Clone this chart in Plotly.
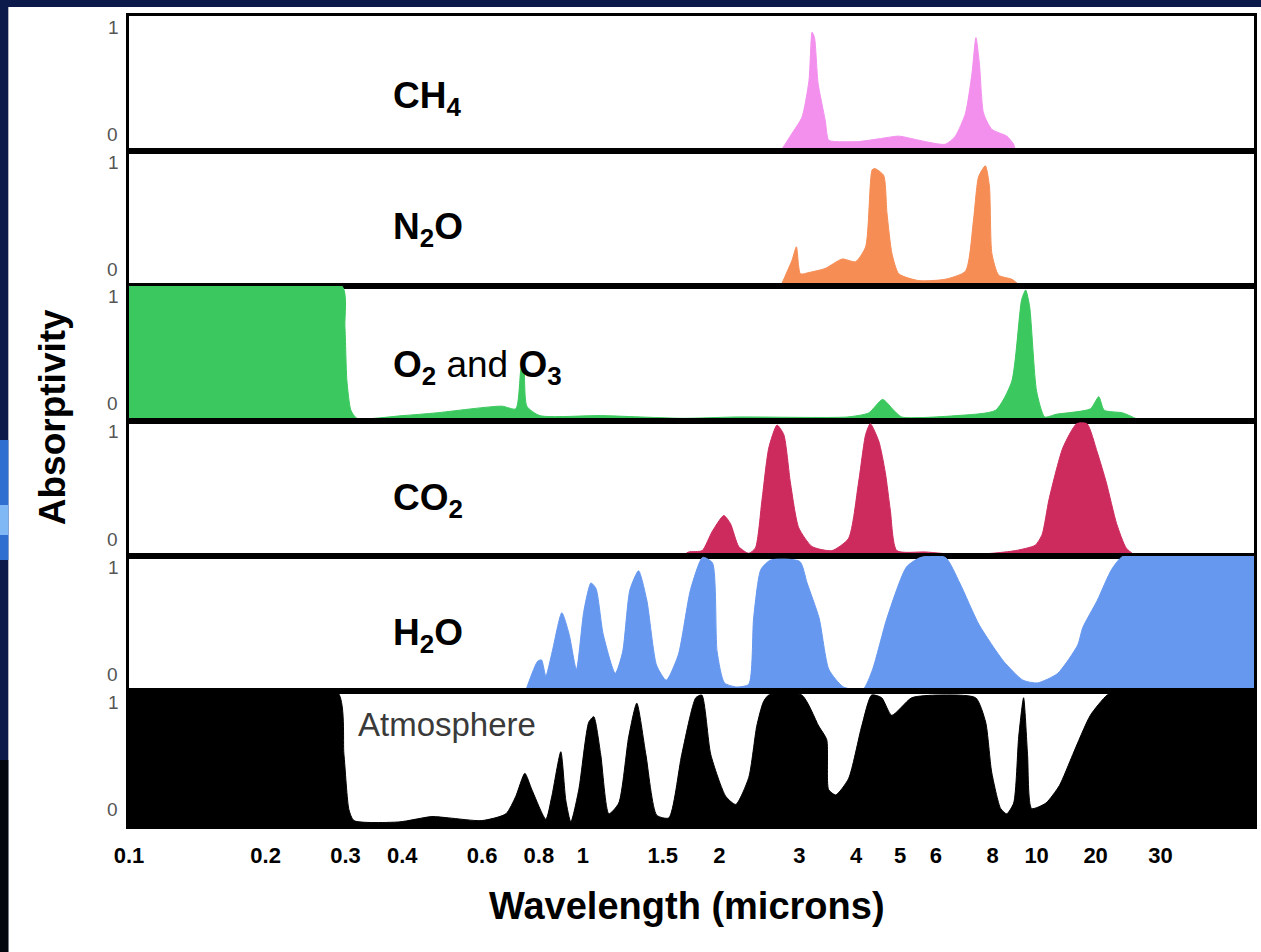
import numpy as np
import plotly.graph_objects as go

# ---------------- data ----------------
TICK_WL = [0.1, 0.2, 0.3, 0.4, 0.6, 0.8, 1, 1.5, 2, 3, 4, 5, 6, 8, 10, 20, 30]
TICK_TEXT = ["0.1", "0.2", "0.3", "0.4", "0.6", "0.8", "1", "1.5", "2", "3",
             "4", "5", "6", "8", "10", "20", "30"]

CH4_WL = [2.73, 2.89, 3.04, 3.15, 3.20, 3.24, 3.30, 3.42, 3.48, 3.60, 4.05, 4.49,
          4.97, 5.50, 6.29, 6.62, 6.97, 7.20, 7.35, 7.48, 7.64, 7.97, 8.60, 8.90, 8.98]
CH4_ABS = [0, 0.13, 0.25, 0.52, 0.88, 0.84, 0.50, 0.23, 0.08, 0.07, 0.07, 0.09,
           0.11, 0.08, 0.05, 0.11, 0.28, 0.57, 0.84, 0.65, 0.28, 0.16, 0.11, 0.05, 0]

N2O_WL = [2.73, 2.89, 2.956, 3.017, 3.15, 3.42, 3.73, 3.99, 4.20, 4.34, 4.40, 4.60,
          4.68, 4.80, 4.97, 5.50, 6.29, 6.97, 7.26, 7.45, 7.71, 7.87, 7.97, 8.25,
          8.82, 9.21]
N2O_ABS = [0, 0.19, 0.29, 0.09, 0.10, 0.13, 0.20, 0.18, 0.29, 0.86, 0.87, 0.82,
           0.54, 0.24, 0.09, 0.04, 0.05, 0.11, 0.49, 0.81, 0.89, 0.74, 0.24, 0.08,
           0.05, 0]

O2O3_WL = [0.1, 0.2945, 0.2991, 0.3021, 0.3083, 0.3178, 0.4014, 0.4745, 0.6631,
           0.7118, 0.7302, 0.7413, 0.7527, 0.8043, 1.095, 1.661, 2.195, 3.834,
           4.266, 4.579, 4.842, 5.042, 6.664, 8.123, 8.81, 9.27, 9.46, 9.65, 10.0,
           11.0, 12.6, 18.8, 20.4, 21.1, 23.7, 26.1, 26.6]
O2O3_ABS = [1.0, 1.0, 0.70, 0.30, 0.08, 0.02, 0.04, 0.06, 0.11,
            0.09, 0.38, 0.45, 0.11, 0.04, 0.04, 0.02, 0.03, 0.03,
            0.06, 0.16, 0.08, 0.03, 0.04, 0.08, 0.29, 0.90, 0.97, 0.85, 0.22,
            0.03, 0.05, 0.09, 0.18, 0.08, 0.06, 0.01, 0]

CO2_WL = [1.655, 1.712, 1.832, 1.927, 2.045, 2.115, 2.206, 2.321, 2.401, 2.483,
          2.569, 2.679, 2.772, 2.868, 2.99, 3.20, 3.54, 3.85, 4.05, 4.20, 4.30,
          4.49, 4.64, 4.76, 4.92, 5.69, 6.73, 7.97, 8.98, 9.93, 10.67, 11.57,
          13.6, 16.0, 18.07, 20.2, 21.4, 22.8, 24.2, 25.7]
CO2_ABS = [0, 0.03, 0.04, 0.18, 0.30, 0.24, 0.07, 0.02, 0.06, 0.42,
           0.80, 0.97, 0.90, 0.54, 0.21, 0.07, 0.04, 0.13, 0.54, 0.90, 0.98,
           0.85, 0.62, 0.34, 0.04, 0.03, 0.01, 0.02, 0.04, 0.08, 0.16, 0.42,
           0.80, 0.98, 0.98, 0.77, 0.54, 0.24, 0.06, 0]

H2O_WL = [0.748, 0.795, 0.811, 0.829, 0.856, 0.899, 0.933, 0.968, 1.005, 1.042,
          1.069, 1.109, 1.179, 1.224, 1.270, 1.327, 1.384, 1.454, 1.527, 1.624,
          1.727, 1.837, 1.930, 1.977, 2.052, 2.183, 2.321, 2.379, 2.468, 2.593,
          3.006, 3.12, 3.317, 3.485, 3.752, 4.14, 4.35, 4.68, 5.17, 5.56, 6.29,
          6.77, 7.47, 8.46, 9.33, 10.1, 12.8, 16.2, 17.2, 20.2, 22.1, 23.8, 60]
H2O_ABS = [0, 0.22, 0.23, 0.11, 0.29, 0.58, 0.42, 0.16, 0.59, 0.80,
           0.76, 0.42, 0.13, 0.29, 0.75, 0.89, 0.67, 0.19, 0.08, 0.27,
           0.75, 0.99, 0.95, 0.29, 0.06, 0.03, 0.05, 0.54, 0.90, 0.97,
           0.96, 0.80, 0.54, 0.16, 0.03, 0.01, 0.16, 0.54, 0.92, 0.99, 0.99,
           0.80, 0.49, 0.22, 0.08, 0.06, 0.13, 0.34, 0.47, 0.67, 0.90, 1.0, 1.0]

ATM_WL = [0.1, 0.287, 0.2976, 0.3053, 0.3132, 0.3933, 0.4649, 0.5068, 0.5991,
          0.6767, 0.7118, 0.7451, 0.7721, 0.829, 0.8545, 0.8944, 0.9174, 0.941,
          0.9799, 1.031, 1.057, 1.095, 1.141, 1.200, 1.262, 1.315, 1.377, 1.455,
          1.547, 1.652, 1.774, 1.829, 1.914, 2.065, 2.173, 2.321, 2.417, 2.5,
          2.569, 3.037, 3.31, 3.447, 3.48, 3.608, 3.85, 4.117, 4.33, 4.556, 4.794,
          5.306, 6.083, 7.338, 7.72, 7.96, 8.33, 8.59, 8.90, 9.13, 9.36, 9.55,
          9.75, 11.15, 13.07, 15.3, 18.8, 21.5, 23.0, 60]
ATM_ABS = [1.0, 1.0, 0.53, 0.12, 0.04, 0.03, 0.07, 0.06, 0.04,
           0.09, 0.22, 0.39, 0.27, 0.05, 0.22, 0.55, 0.19, 0.03,
           0.27, 0.77, 0.81, 0.53, 0.09, 0.17, 0.66, 0.91, 0.53, 0.08,
           0.06, 0.53, 0.95, 0.97, 0.53, 0.22, 0.16, 0.36, 0.74, 0.92,
           0.97, 0.97, 0.74, 0.64, 0.27, 0.23, 0.35, 0.74, 0.97, 0.95, 0.82,
           0.95, 0.97, 0.95, 0.77, 0.40, 0.13, 0.09, 0.17, 0.66, 0.95, 0.53,
           0.13, 0.17, 0.30, 0.53, 0.82, 0.97, 1.0, 1.0]

PANEL_LABELS = ["<b>CH<sub>4</sub></b>", "<b>N<sub>2</sub>O</b>",
                "<b>O<sub>2</sub></b> and <b>O<sub>3</sub></b>",
                "<b>CO<sub>2</sub></b>", "<b>H<sub>2</sub>O</b>", "Atmosphere"]
PANEL_COLORS = ["#F390EE", "#F68D55", "#3BC85E", "#CD2A5E", "#6698F0", "#000000"]
PANEL_WL = [CH4_WL, N2O_WL, O2O3_WL, CO2_WL, H2O_WL, ATM_WL]
PANEL_ABS = [CH4_ABS, N2O_ABS, O2O3_ABS, CO2_ABS, H2O_ABS, ATM_ABS]

# Horizontal scale of the source figure: logarithmic up to 10 microns,
# compressed beyond 10 (tick labels 20 and 30 sit closer together).
SCALE_LOG = [-1.0, 1.0, np.log10(20), np.log10(30), np.log10(60)]
SCALE_POS = [-1.0, 1.0, 1.130, 1.273, 1.521]


def to_axis(wl):
    return np.interp(np.log10(np.asarray(wl, dtype=float)), SCALE_LOG, SCALE_POS)


FONT = "Arial, 'Liberation Sans', sans-serif"
W, H = 1261, 952
ML, MR, MT, MB = 129, 4, 16, 126
PW = W - ML - MR
PH = H - MT - MB
N = 6


def px_x(p):
    return (p - ML) / PW


def px_y(p):
    return (H - MB - p) / PH


fig = go.Figure()
layout = dict(
    width=W, height=H,
    margin=dict(l=ML, r=MR, t=MT, b=MB, pad=0),
    paper_bgcolor="#0B1A4A",
    plot_bgcolor="#FFFFFF",
    showlegend=False,
    hovermode=False,
    font=dict(family=FONT, color="#000000"),
)

annotations = []
for i in range(N):
    k = i + 1
    sfx = "" if k == 1 else str(k)
    top = 1 - i / N
    bot = 1 - (i + 1) / N
    fig.add_trace(go.Scatter(
        x=to_axis(PANEL_WL[i]), y=PANEL_ABS[i],
        mode="lines", fill="tozeroy",
        line=dict(color=PANEL_COLORS[i], width=1, shape="spline", smoothing=0.6),
        fillcolor=PANEL_COLORS[i],
        xaxis="x" + sfx, yaxis="y" + sfx,
    ))
    layout["yaxis" + sfx] = dict(
        domain=[bot, top], range=[0, 1], anchor="x" + sfx,
        showticklabels=False, ticks="", showgrid=False, zeroline=False,
        showline=True, mirror=True, linecolor="#000000", linewidth=3,
        fixedrange=True,
    )
    xa = dict(
        domain=[0, 1], range=[-1, 1.479], anchor="y" + sfx,
        showgrid=False, zeroline=False, ticks="",
        showline=True, mirror=True, linecolor="#000000", linewidth=3,
        fixedrange=True,
        tickmode="array", tickvals=list(to_axis(TICK_WL)), ticktext=TICK_TEXT,
        showticklabels=(k == N),
    )
    if k == N:
        xa.update(tickfont=dict(family=FONT, size=22, color="#000000", weight="bold"),
                  ticklabelstandoff=8)
    layout["xaxis" + sfx] = xa

    # "1" and "0" value marks of each panel
    t_px = MT + i * PH / N
    annotations.append(dict(text="1", xref="paper", yref="paper",
                            x=px_x(113), y=px_y(t_px + 11), showarrow=False,
                            xanchor="center", yanchor="middle",
                            font=dict(family=FONT, size=19, color="#555555")))
    annotations.append(dict(text="0", xref="paper", yref="paper",
                            x=px_x(112), y=px_y(t_px + 118), showarrow=False,
                            xanchor="center", yanchor="middle",
                            font=dict(family=FONT, size=19, color="#555555")))

LABEL_Y = [98, 229, 367, 500, 635, 724]
for i, lab in enumerate(PANEL_LABELS):
    if i == N - 1:
        f = dict(family=FONT, size=33, color="#3A3A3A")
        xl = 357
    else:
        f = dict(family=FONT, size=37, color="#000000")
        xl = 392
    annotations.append(dict(text=lab, xref="paper", yref="paper",
                            x=px_x(xl), y=px_y(LABEL_Y[i]), showarrow=False,
                            xanchor="left", yanchor="middle", font=f))

annotations.append(dict(text="<b>Absorptivity</b>", xref="paper", yref="paper",
                        x=px_x(53), y=px_y(417), textangle=-90, showarrow=False,
                        xanchor="center", yanchor="middle",
                        font=dict(family=FONT, size=37, color="#000000")))
annotations.append(dict(text="<b>Wavelength (microns)</b>", xref="paper", yref="paper",
                        x=px_x(688), y=px_y(906), showarrow=False,
                        xanchor="center", yanchor="middle",
                        font=dict(family=FONT, size=38, color="#000000")))
layout["annotations"] = annotations

# white page area with dark blue border strips (as in the source slide)
layout["shapes"] = [
    dict(type="rect", xref="paper", yref="paper", layer="below",
         x0=px_x(8), x1=px_x(W + 5), y0=px_y(H + 5), y1=px_y(7),
         line=dict(width=0), fillcolor="#FFFFFF"),
    dict(type="rect", xref="paper", yref="paper", layer="below",
         x0=px_x(-5), x1=px_x(8), y0=px_y(H + 5), y1=px_y(760),
         line=dict(width=0), fillcolor="#03060F"),
    dict(type="rect", xref="paper", yref="paper", layer="below",
         x0=px_x(-5), x1=px_x(8), y0=px_y(560), y1=px_y(440),
         line=dict(width=0), fillcolor="#2F6FD0"),
    dict(type="rect", xref="paper", yref="paper", layer="below",
         x0=px_x(-5), x1=px_x(8), y0=px_y(535), y1=px_y(505),
         line=dict(width=0), fillcolor="#7FB8F5"),
]

fig.update_layout(**layout)
fig.write_html("out.html")
